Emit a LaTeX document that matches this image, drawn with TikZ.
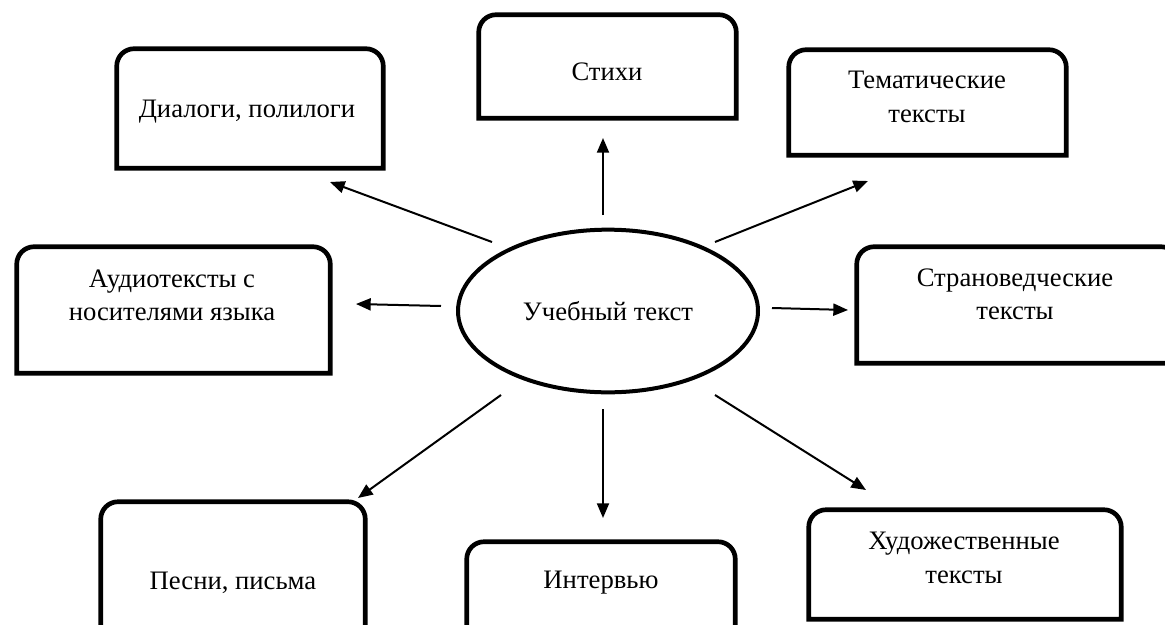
\documentclass[tikz,border=0pt]{standalone}
\usepackage{fontspec}
\setmainfont{Liberation Serif}
\usetikzlibrary{arrows.meta,fit,shapes.geometric}
\tikzset{
  frame/.style={line width=3.5pt, line join=miter},
  lbl/.style={font=\fontsize{20}{25}\selectfont, align=center, inner sep=0pt},
  arr/.style={line width=1.5pt, -{Triangle[length=11pt,width=9pt]}},
  boxarea/.style={inner sep=0pt, draw=none},
  centre/.style={ellipse, draw, line width=3pt, minimum width=225pt, minimum height=122pt, inner sep=0pt, font=\fontsize{20}{25}\selectfont},
}
\newcommand\topbox[5]{%
  \node[boxarea, fit={(#2,#3) (#4,#5)}] (#1) {};
  \draw[frame] (#1.south west) -- ([yshift=-13pt]#1.north west)
    arc[start angle=180,end angle=90,radius=13pt]
    -- ([xshift=-13pt]#1.north east)
    arc[start angle=90,end angle=0,radius=13pt]
    -- (#1.south east) -- cycle;
}
\begin{document}
\begin{tikzpicture}[x=0.75pt,y=-0.75pt]
\useasboundingbox (0,0) rectangle (1165,625);
\clip (0,0) rectangle (1165,625);
% frames
\topbox{fdlg}{117}{49}{383}{168}
\topbox{fsti}{479}{15}{736}{118}
\topbox{ftem}{789}{50}{1066}{155}
\topbox{faud}{17}{247}{330}{373}
\topbox{fstr}{857}{247}{1178}{363}
\topbox{fpes}{101}{502}{365}{690}
\topbox{fint}{467}{542}{735}{690}
\topbox{fhud}{809}{510}{1121}{619}
% texts
\node[lbl] (dlg) at (247,112) {Диалоги, полилоги};
\node[lbl] (sti) at (607,72) {Стихи};
\node[lbl] (tem) at (927,97) {Тематические\\тексты};
\node[lbl] (aud) at (172,295) {Аудиотексты с\\носителями языка};
\node[lbl] (str) at (1015,294) {Страноведческие\\тексты};
\node[lbl] (pes) at (233,583) {Песни, письма};
\node[lbl] (int) at (601,583) {Интервью};
\node[lbl] (hud) at (964,558) {Художественные\\тексты};
% centre
\node[centre] (c) at (608,311) {Учебный текст};
% arrow ends
\coordinate (s1) at (603,215); \coordinate (e1) at (603,138);
\coordinate (s2) at (492,242); \coordinate (e2) at (330,182);
\coordinate (s3) at (715,242); \coordinate (e3) at (868,181);
\coordinate (s4) at (441,306); \coordinate (e4) at (356,304);
\coordinate (s5) at (772,308); \coordinate (e5) at (848,310);
\coordinate (s6) at (501,395); \coordinate (e6) at (358,498);
\coordinate (s7) at (603,409); \coordinate (e7) at (603,518);
\coordinate (s8) at (715,395); \coordinate (e8) at (866,490);
\foreach \i in {1,...,8} \draw[arr] (s\i) -- (e\i);
\end{tikzpicture}
\end{document}
